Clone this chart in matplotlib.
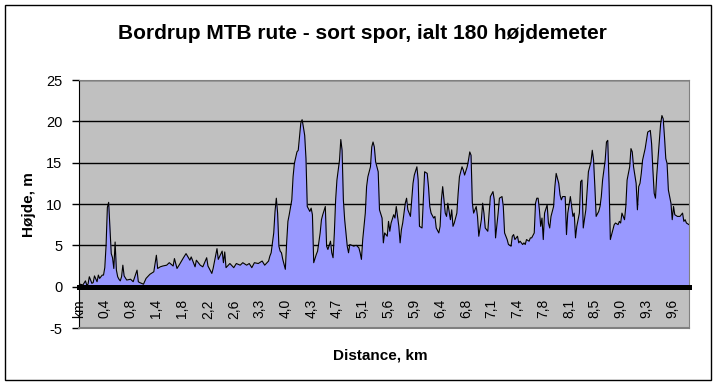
import matplotlib
matplotlib.use("Agg")
import matplotlib.pyplot as plt
from matplotlib.patches import Rectangle

plt.rcParams['font.family'] = ['Liberation Sans', 'DejaVu Sans']
plt.rcParams['axes.unicode_minus'] = False

# profile points: point number along the route, height in m
point_no = [
    0, 1, 3, 5, 6, 7, 8, 10, 11, 12, 14, 15, 16, 18, 19, 20, 21, 22, 23, 24,
    25, 26, 27, 28, 29, 30, 31, 32, 33, 34, 35, 37, 40, 42, 45, 46, 47, 50, 52, 55,
    58, 60, 61, 63, 65, 68, 70, 73, 74, 76, 78, 81, 83, 86, 87, 90, 91, 94, 96, 99,
    100, 103, 104, 107, 108, 111, 112, 113, 114, 117, 120, 122, 125, 127, 130, 132, 134, 136, 139, 142,
    144, 147, 148, 149, 151, 152, 153, 154, 155, 156, 157, 158, 160, 161, 162, 163, 165, 166, 167, 169,
    170, 171, 172, 173, 174, 175, 176, 177, 179, 180, 181, 182, 184, 185, 187, 188, 189, 191, 192, 193,
    195, 196, 197, 198, 199, 200, 202, 203, 204, 205, 206, 208, 209, 210, 213, 215, 217, 218, 219, 220,
    222, 223, 224, 226, 227, 228, 229, 230, 232, 233, 235, 236, 237, 239, 240, 241, 242, 244, 245, 246,
    248, 249, 250, 251, 253, 254, 255, 257, 258, 259, 260, 262, 263, 264, 266, 267, 268, 270, 271, 272,
    273, 275, 276, 277, 279, 280, 281, 282, 283, 284, 285, 286, 288, 289, 290, 291, 293, 294, 295, 297,
    298, 299, 301, 302, 303, 304, 305, 306, 308, 309, 310, 312, 313, 314, 315, 317, 318, 319, 321, 322,
    323, 325, 326, 328, 329, 330, 331, 332, 333, 335, 336, 337, 338, 340, 341, 342, 344, 345, 346, 347,
    349, 350, 351, 353, 354, 355, 356, 357, 358, 359, 360, 361, 363, 364, 365, 366, 368, 369, 370, 372,
    373, 374, 375, 377, 378, 379, 381, 382, 383, 384, 385, 386, 388, 389, 390, 391, 393, 394, 395, 397,
    398, 399, 400, 401, 403, 404, 405, 406, 408, 409, 410, 411, 412, 414, 415, 416, 418, 419, 420, 421,
    423, 424, 425, 427, 428, 429, 430, 432, 433, 434, 435, 436, 437, 439, 440, 441, 443, 444, 445, 446,
    447, 448, 450, 451, 452, 453, 454, 455, 456, 457, 458, 459, 460, 461, 462, 464, 465, 466, 468, 469,
    470, 471, 473,
]
height_m = [
    0.1, 0.3, 0.2, 0.7, 0.2, 0.3, 1.2, 0.4, 0.5, 1.3, 0.6, 1.4, 1.0, 1.4, 1.4, 2.3, 5.0, 9.6, 10.2, 7.0,
    4.0, 3.5, 2.2, 5.4, 2.0, 1.2, 0.9, 0.7, 1.2, 2.6, 1.3, 0.8, 0.9, 0.6, 2.0, 0.6, 0.5, 0.3, 1.0, 1.5,
    1.8, 3.8, 2.2, 2.4, 2.5, 2.6, 2.9, 2.5, 3.4, 2.2, 2.7, 3.5, 4.0, 3.2, 3.6, 2.4, 3.2, 2.6, 2.4, 3.5,
    2.5, 1.6, 2.2, 4.6, 3.3, 4.3, 2.9, 4.2, 2.3, 2.8, 2.3, 2.8, 2.6, 2.9, 2.6, 2.8, 2.3, 2.9, 2.8, 3.1,
    2.6, 3.1, 3.7, 4.1, 6.5, 9.1, 10.7, 8.9, 4.9, 4.3, 4.1, 3.3, 2.1, 5.3, 7.9, 8.7, 10.5, 13.3, 14.9, 16.3,
    16.5, 18.1, 19.8, 20.2, 19.3, 18.3, 15.5, 9.7, 9.1, 9.5, 8.7, 2.9, 3.9, 4.3, 6.5, 8.1, 8.7, 9.7, 4.9, 4.5,
    5.5, 4.1, 3.5, 6.5, 10.5, 12.9, 15.3, 17.8, 16.5, 10.5, 8.1, 4.9, 4.1, 5.1, 4.9, 5.0, 4.7, 4.1, 3.3, 5.7,
    8.9, 12.1, 13.3, 14.5, 16.9, 17.5, 16.9, 15.1, 13.9, 9.3, 8.3, 5.3, 6.5, 6.1, 7.9, 6.7, 7.7, 8.7, 8.3, 9.7,
    7.3, 5.3, 6.9, 7.7, 10.1, 10.7, 9.3, 8.5, 10.5, 12.5, 13.5, 14.5, 12.9, 7.3, 7.1, 10.5, 13.9, 13.7, 12.1, 9.7,
    8.9, 8.3, 8.5, 7.1, 6.5, 7.3, 10.5, 12.1, 10.5, 8.9, 8.5, 10.1, 8.1, 9.3, 7.3, 7.7, 8.9, 11.3, 13.3, 14.5,
    14.1, 13.5, 14.5, 15.3, 16.3, 15.9, 10.1, 8.9, 9.7, 8.5, 6.1, 8.1, 10.1, 8.9, 7.1, 6.7, 8.9, 10.9, 11.5, 10.5,
    5.9, 8.9, 10.7, 10.9, 9.7, 6.5, 6.1, 5.7, 5.1, 4.9, 6.1, 6.3, 5.7, 6.1, 5.3, 5.5, 5.1, 5.3, 5.1, 5.7,
    5.5, 5.9, 5.9, 6.5, 10.1, 10.7, 10.7, 9.3, 7.3, 8.3, 5.7, 8.9, 9.9, 7.7, 7.1, 8.5, 9.7, 12.1, 13.7, 12.5,
    11.1, 10.5, 10.9, 10.9, 6.3, 8.9, 10.9, 9.7, 8.5, 8.9, 5.9, 7.3, 8.9, 12.7, 12.9, 7.1, 9.3, 11.7, 13.9, 15.1,
    16.5, 15.3, 12.1, 8.5, 9.1, 9.7, 10.9, 12.9, 15.3, 17.5, 17.7, 12.5, 5.7, 6.9, 7.5, 7.7, 7.5, 7.9, 7.7, 8.9,
    8.1, 9.7, 12.9, 14.5, 16.7, 16.3, 14.5, 12.5, 9.3, 12.1, 12.5, 13.7, 15.3, 16.7, 17.7, 18.7, 18.9, 17.3, 14.1, 11.3,
    10.7, 13.5, 17.7, 19.7, 20.7, 20.3, 18.1, 15.5, 14.9, 11.7, 10.9, 10.1, 8.1, 9.7, 8.7, 8.5, 8.5, 8.5, 8.9, 7.9,
    8.1, 7.7, 7.5,
]

# category labels, one every 20 points
label_points = list(range(0, 461, 20))
distance_labels = ["km", "0,4", "0,8", "1,4", "1,8", "2,2", "2,6", "3,3", "4,0", "4,3", "4,7", "5,1",
                   "5,6", "5,9", "6,4", "6,8", "7,1", "7,4", "7,8", "8,1", "8,5", "9,0", "9,3", "9,6"]
y_ticks = [-5, 0, 5, 10, 15, 20, 25]

W, H = 717, 386
fig = plt.figure(figsize=(W / 100, H / 100), dpi=100)
fig.patches.append(Rectangle((5 / W, 6 / H), 706 / W, 375 / H, transform=fig.transFigure,
                             fill=False, edgecolor='black', linewidth=1))

ax = fig.add_axes([79 / W, 58 / H, 610 / W, 248 / H])
ax.set_facecolor('#C0C0C0')
ax.set_axisbelow(True)

ax.fill_between(point_no, height_m, 0, color='#9999FF', linewidth=0, zorder=2)
ax.plot(point_no, height_m, color='black', linewidth=0.8, zorder=3)

ax.set_xlim(0, 473)
ax.set_ylim(-5, 25)
ax.set_yticks(y_ticks)
ax.set_yticklabels([str(v) for v in y_ticks])
ax.yaxis.grid(True, color='black', linewidth=1)
ax.tick_params(axis='y', direction='out', length=5, width=1, pad=7, labelsize=10.5, colors='black')

ax.set_xticks(label_points)
ax.set_xticklabels(distance_labels)
ax.tick_params(axis='x', length=0, pad=9, labelsize=10, labelrotation=90)
for lbl in ax.get_xticklabels():
    lbl.set_va('top')

for side in ['top', 'right']:
    ax.spines[side].set_color('#808080')
ax.spines['left'].set_color('black')
ax.spines['bottom'].set_position(('data', 0))
ax.spines['bottom'].set_linewidth(3.6)
ax.spines['bottom'].set_zorder(4)
ax.plot([0, 1], [0, 0], transform=ax.transAxes, color='#808080', linewidth=1.5, clip_on=False, zorder=5)

fig.text(362 / W, 1 - 39 / H, "Bordrup MTB rute - sort spor, ialt 180 højdemeter",
         ha='center', va='baseline', fontsize=15, fontweight='bold')
fig.text(29.5 / W, 1 - 205 / H, "Højde, m", rotation=90, ha='center', va='center',
         fontsize=11, fontweight='bold')
fig.text(380 / W, 1 - 356 / H, "Distance, km", ha='center', va='center',
         fontsize=11, fontweight='bold')

fig.savefig("out.png", dpi=100)
